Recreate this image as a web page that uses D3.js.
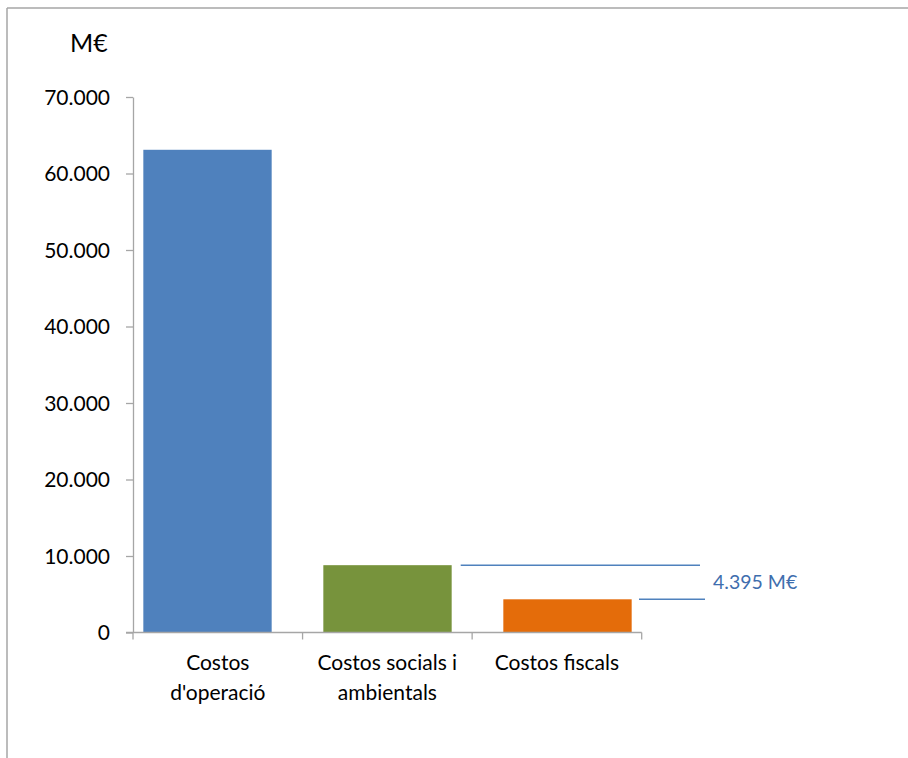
<!DOCTYPE html>
<html>
<head>
<meta charset="utf-8">
<script src="https://cdn.jsdelivr.net/npm/d3@7/dist/d3.min.js"></script>
<style>
  html, body { margin: 0; padding: 0; background: #ffffff; }
  svg { display: block; }
  text { font-family: Lato, "Open Sans", sans-serif; fill: #000; }
</style>
</head>
<body>
<svg id="chart" width="908" height="758"></svg>
<script>
// ---- data ----
const categories = ["Costos d'operació", "Costos socials i ambientals", "Costos fiscals"];
const categoryLines = [["Costos", "d'operació"], ["Costos socials i", "ambientals"], ["Costos fiscals"]];
const values = [63100, 8800, 4340];
const barColors = ["#4f81bd", "#77933c", "#e46c0a"];
const yTicks = [0, 10000, 20000, 30000, 40000, 50000, 60000, 70000];
const yMax = 70000;
const unitLabel = "M€";
const differenceValue = 4395;
const differenceLabel = "4.395 M€";

// ---- layout ----
const svg = d3.select("#chart");
const W = 908, H = 758;
const plot = { left: 133, right: 641.7, top: 97, bottom: 632.5 };

const locale = d3.formatLocale({ decimal: ",", thousands: ".", grouping: [3], currency: ["", "€"] });
const fmt = locale.format(",d");

const y = d3.scaleLinear().domain([0, yMax]).range([plot.bottom, plot.top]);
// scale for category slots (ticks and labels)
const xAxisScale = d3.scaleBand().domain(categories).range([plot.left, plot.right]).padding(0);
// scale for bars
const xBar = d3.scaleBand().domain(categories).range([117.5, 657.5]).paddingInner(0.287).paddingOuter(0.1435);

// outer frame (top and left edges visible)
svg.append("line").attr("x1", 7).attr("x2", W).attr("y1", 8).attr("y2", 8)
  .attr("stroke", "#a6a6a6").attr("stroke-width", 1.5);
svg.append("line").attr("x1", 7).attr("x2", 7).attr("y1", 8).attr("y2", H)
  .attr("stroke", "#a6a6a6").attr("stroke-width", 1.5);

// bars
svg.append("g").selectAll("rect").data(values).join("rect")
  .attr("x", (d, i) => xBar(categories[i]))
  .attr("width", xBar.bandwidth())
  .attr("y", d => y(d))
  .attr("height", d => y(0) - y(d))
  .attr("fill", (d, i) => barColors[i]);

// y axis
const yAxis = d3.axisLeft(y).tickValues(yTicks).tickFormat(fmt).tickSizeInner(7).tickSizeOuter(0).tickPadding(16);
const gy = svg.append("g").attr("transform", `translate(${plot.left},0)`).call(yAxis);
gy.select(".domain").attr("stroke", "#a6a6a6").attr("stroke-width", 1.3);
gy.selectAll(".tick line").attr("stroke", "#a6a6a6").attr("stroke-width", 1.3);
gy.selectAll(".tick text").attr("font-size", 21).attr("font-family", "Lato, sans-serif").attr("fill", "#000").attr("dy", "0.35em");

// x axis line + slot ticks
svg.append("line").attr("x1", plot.left - 7).attr("x2", plot.right).attr("y1", y(0)).attr("y2", y(0))
  .attr("stroke", "#a6a6a6").attr("stroke-width", 1.3);
const boundaries = categories.map(c => xAxisScale(c)).concat([xAxisScale(categories[categories.length - 1]) + xAxisScale.bandwidth()]);
svg.append("g").selectAll("line").data(boundaries).join("line")
  .attr("x1", d => d).attr("x2", d => d)
  .attr("y1", y(0)).attr("y2", y(0) + 7)
  .attr("stroke", "#a6a6a6").attr("stroke-width", 1.3);

// category labels
const labels = svg.append("g").selectAll("text").data(categories).join("text")
  .attr("text-anchor", "middle")
  .attr("font-size", 21)
  .attr("x", d => xAxisScale(d) + xAxisScale.bandwidth() / 2)
  .attr("y", 670);
labels.each(function (d, i) {
  const t = d3.select(this);
  categoryLines[i].forEach((line, j) => {
    t.append("tspan").attr("x", xAxisScale(d) + xAxisScale.bandwidth() / 2)
      .attr("dy", j === 0 ? 0 : 30).text(line);
  });
});

// unit label
svg.append("text").attr("x", 70).attr("y", 52).attr("font-size", 25).text(unitLabel);

// difference annotation
const annColor = "#4f81bd";
svg.append("line").attr("x1", 460.7).attr("x2", 700).attr("y1", y(values[1])).attr("y2", y(values[1]))
  .attr("stroke", annColor).attr("stroke-width", 1.6);
svg.append("line").attr("x1", 639).attr("x2", 705).attr("y1", y(values[2])).attr("y2", y(values[2]))
  .attr("stroke", annColor).attr("stroke-width", 1.6);
svg.append("text").attr("x", 713).attr("y", (y(values[1]) + y(values[2])) / 2 + 7)
  .attr("font-size", 19.5).style("fill", "#3f6eae")
  .attr("data-value", differenceValue)
  .text(differenceLabel);
</script>
</body>
</html>
